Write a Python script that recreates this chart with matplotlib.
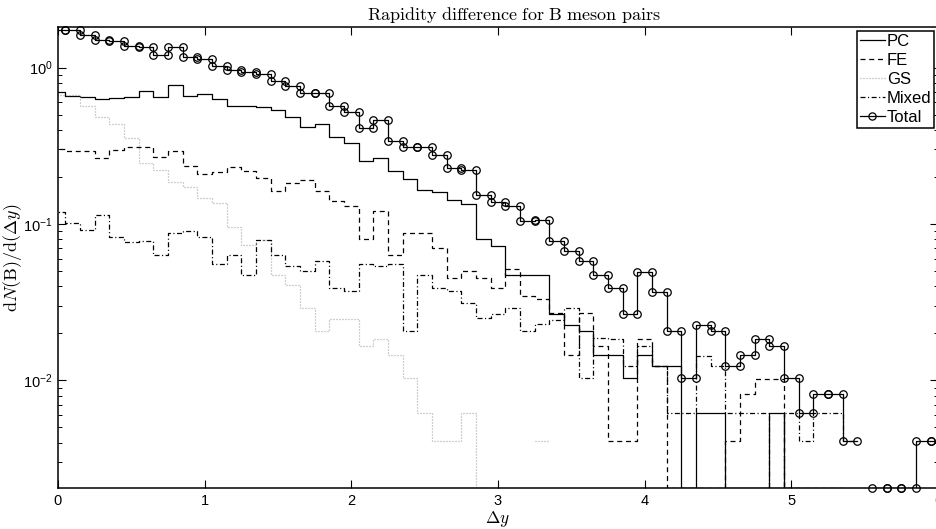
import numpy as np
import matplotlib
matplotlib.use('Agg')
import matplotlib.pyplot as plt
from matplotlib.lines import Line2D

plt.rcParams['font.family'] = ['Liberation Sans', 'DejaVu Sans']
plt.rcParams['mathtext.fontset'] = 'cm'

nan = np.nan

# bin centres, width 0.1 (first bin sits just left of the axis)
centers = np.round(np.arange(-0.05, 6.0, 0.1), 2)

total = [1.74, 1.74, 1.62, 1.50, 1.49, 1.38, 1.36, 1.205, 1.36, 1.165,
         1.137, 1.03, 0.967, 0.943, 0.911, 0.822, 0.764, 0.692, 0.692, 0.569,
         0.524, 0.410, 0.4635, 0.342, 0.313, 0.313, 0.277, 0.228, 0.222, 0.154,
         0.138, 0.131, 0.104, 0.1066, 0.0782, 0.0668, 0.0577, 0.0475, 0.039, 0.02675,
         0.0493, 0.037, 0.0206, 0.0104, 0.02275, 0.0206, 0.0123, 0.01449, 0.0185, 0.01654,
         0.0104, 0.00615, 0.00821, 0.00821, 0.0041, nan, 0.00205, 0.00205, 0.00205, 0.0041,
         0.0041]

pc = [0.703, 0.663, 0.653, 0.634, 0.643, 0.653, 0.71, 0.647, 0.775, 0.663,
      0.679, 0.628, 0.569, 0.569, 0.558, 0.537, 0.482, 0.416, 0.437, 0.3625,
      0.329, 0.2536, 0.266, 0.218, 0.194, 0.164, 0.160, 0.143, 0.135, 0.0805,
      0.0719, 0.0475, 0.0475, 0.0475, 0.02675, 0.02275, 0.0206, 0.0145, 0.0145, 0.0104,
      0.0145, 0.0123, 0.0123, 0.00205, 0.00615, 0.00615, 0.00205, 0.00205, 0.00205, 0.00615,
      0.00205, nan, nan, nan, nan, nan, nan, nan, nan, nan,
      nan]

fe = [0.30, 0.291, 0.291, 0.266, 0.298, 0.31, 0.31, 0.268, 0.295, 0.2356,
      0.2094, 0.2136, 0.231, 0.217, 0.197, 0.1615, 0.183, 0.192, 0.163, 0.1395,
      0.131, 0.0802, 0.1204, 0.0637, 0.0876, 0.0876, 0.0703, 0.0452, 0.0498, 0.0452,
      0.039, 0.0516, 0.0348, 0.0332, 0.027, 0.01463, 0.027, 0.01654, 0.0041, 0.0041,
      0.0185, 0.0123, 0.00205, 0.00205, 0.00205, 0.00205, 0.0041, 0.0082, 0.01025, 0.01025,
      0.00205, 0.00205, 0.00205, 0.00205, nan, nan, nan, nan, nan, nan,
      nan]

gs = [0.669, 0.669, 0.569, 0.482, 0.437, 0.354, 0.245, 0.222, 0.186, 0.172,
      0.1465, 0.136, 0.0951, 0.0738, 0.0794, 0.0475, 0.041, 0.029, 0.0206, 0.0247,
      0.0247, 0.0167, 0.0185, 0.0145, 0.0104, 0.00615, 0.0041, 0.0041, 0.00615, 0.00205,
      nan, nan, nan, 0.0041, nan, nan, nan, nan, nan, nan,
      nan, nan, nan, nan, nan, nan, nan, nan, nan, nan,
      nan, nan, nan, nan, nan, nan, nan, nan, nan, nan,
      nan]

mixed = [0.119, 0.1015, 0.091, 0.1147, 0.0821, 0.0763, 0.0782, 0.0637, 0.0876, 0.0906,
         0.0821, 0.0558, 0.0637, 0.0475, 0.0794, 0.0637, 0.0536, 0.0498, 0.0577, 0.039,
         0.0371, 0.0558, 0.0536, 0.0558, 0.0206, 0.0475, 0.039, 0.0371, 0.0313, 0.0251,
         0.0264, 0.029, 0.0206, 0.0228, 0.0245, 0.029, 0.0104, 0.0187, 0.0185, 0.0123,
         0.0165, 0.0123, 0.00615, 0.00615, 0.01435, 0.0123, 0.00615, 0.00615, 0.00615, 0.00205,
         0.00615, 0.0041, 0.00615, 0.00615, 0.0041, nan, nan, nan, nan, nan,
         nan]


def stairs(x, y):
    # matlab-style stairs vertices, carried one bin past the last centre
    xs = np.append(x, x[-1] + 0.1)
    vx = np.repeat(xs, 2)[1:-1]
    vy = np.repeat(np.asarray(y, dtype=float), 2)
    return vx, vy


fig = plt.figure(figsize=(9.37, 5.29), dpi=100)
ax = fig.add_axes([58 / 937, 41 / 529, 880 / 937, 461 / 529])

lw = 0.9
x, y = stairs(centers, pc)
ax.plot(x, y, color='k', lw=lw)
x, y = stairs(centers, fe)
ax.plot(x, y, color='k', lw=lw, linestyle=(0, (4, 3)))
x, y = stairs(centers, gs)
ax.plot(x, y, color='#a0a0a0', lw=lw, linestyle=(0, (0.8, 1.6)))
x, y = stairs(centers, mixed)
ax.plot(x, y, color='k', lw=lw, linestyle=(0, (4, 2, 0.9, 2)))
x, y = stairs(centers, total)
ax.plot(x, y, color='k', lw=lw)
keep = (x >= 0) & (x <= 6.001)
ax.plot(x[keep], y[keep], linestyle='none', marker='o', ms=5.4, mfc='none',
        mec='k', mew=0.9, clip_on=False)

ax.set_yscale('log')
ax.set_xlim(0, 6)
ax.set_ylim(0.00205, 1.82)
ax.set_xticks(range(7))

ax.tick_params(which='both', direction='in', top=True, right=True,
               labelsize=10.5, pad=4)
ax.tick_params(which='major', length=6, width=0.8)
ax.tick_params(which='minor', length=3, width=0.7)
for s in ax.spines.values():
    s.set_linewidth(1.1)

ax.set_title(r'$\mathrm{Rapidity\ difference\ for\ B\ meson\ pairs}$',
             fontsize=13, pad=5, x=0.518)
ax.set_xlabel(r'$\Delta y$', fontsize=12.5, labelpad=1)
ax.set_ylabel(r'$\mathrm{d}N(\mathrm{B})/\mathrm{d}(\Delta y)$', fontsize=13)
ax.yaxis.set_label_coords(-0.0385, 0.5)

handles = [
    Line2D([], [], color='k', lw=lw),
    Line2D([], [], color='k', lw=lw, linestyle=(0, (4, 3))),
    Line2D([], [], color='#a0a0a0', lw=lw, linestyle=(0, (0.8, 1.6))),
    Line2D([], [], color='k', lw=lw, linestyle=(0, (4, 2, 0.9, 2))),
    Line2D([], [], color='k', lw=lw, marker='o', ms=5.2, mfc='none', mew=0.9),
]
leg = ax.legend(handles, ['PC', 'FE', 'GS', 'Mixed', 'Total'],
                loc='upper right', bbox_to_anchor=(0.9955, 0.991),
                fontsize=12, frameon=True, fancybox=False, framealpha=1,
                borderaxespad=0, borderpad=0.15, labelspacing=0.25,
                handlelength=1.5, handletextpad=0.12)
leg.get_frame().set_edgecolor('k')
leg.get_frame().set_linewidth(1.1)

fig.savefig('out.png', dpi=100)
